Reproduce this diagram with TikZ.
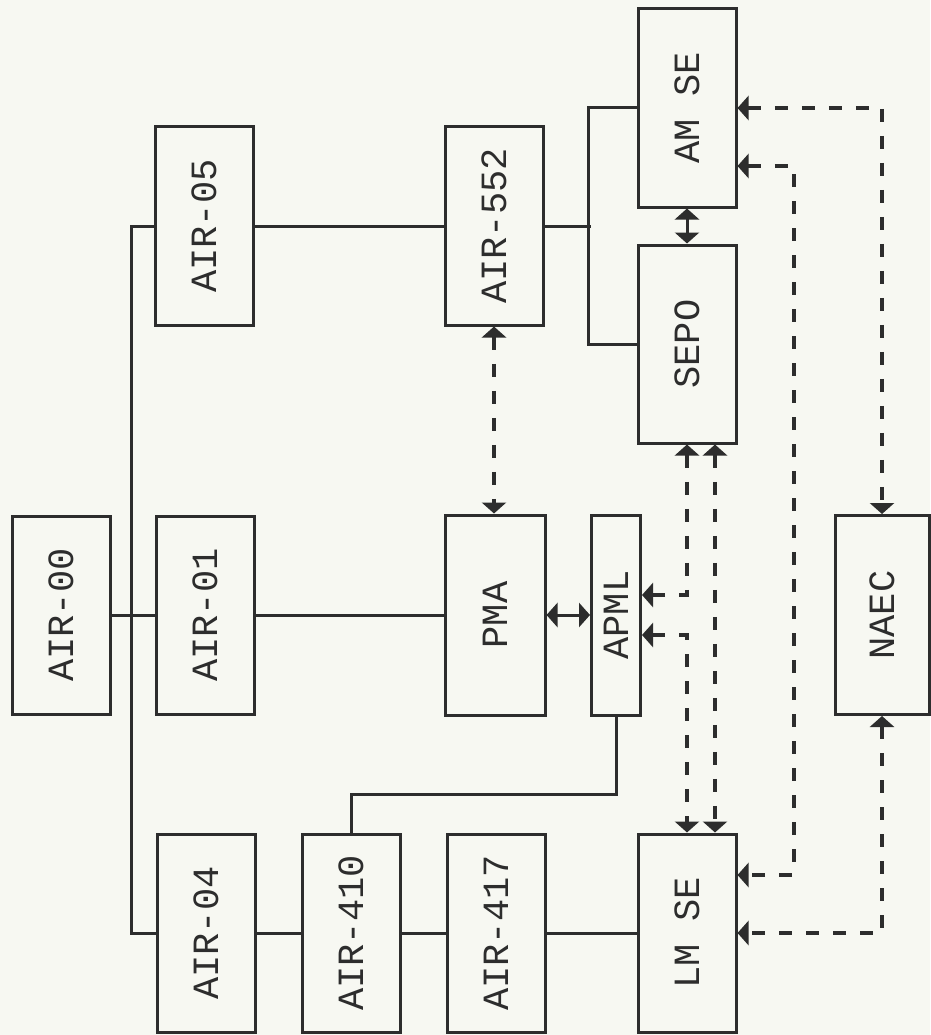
\documentclass[tikz,border=0pt]{standalone}
\usepackage{fontspec}
\usepackage{graphicx}
\setmonofont{Liberation Mono}
\usetikzlibrary{arrows.meta}
\definecolor{ink}{RGB}{45,45,45}
\definecolor{paper}{RGB}{247,248,242}
\tikzset{myhead/.tip={Triangle[width=24pt,length=11pt]}}
\begin{document}
\begin{tikzpicture}[x=1pt,y=-1pt,
  box/.style={draw=ink, line width=3pt, minimum width=98pt, minimum height=198pt,
    inner sep=0pt, text=ink, font=\ttfamily\fontsize{37}{37}\selectfont},
  link/.style={draw=ink, line width=3pt},
  dlink/.style={draw=ink, line width=4pt, dash pattern=on 13pt off 14pt},
  both/.style={myhead-myhead}]
\fill[paper] (0,0) rectangle (930,1035);
\useasboundingbox (0,0) rectangle (930,1035);
% boxes
\node[box] (air00) at (61,615) {\rotatebox{90}{AIR-00}};
\node[box] (air01) at (205,615) {\rotatebox{90}{AIR-01}};
\node[box] (air05) at (204,226) {\rotatebox{90}{AIR-05}};
\node[box] (air04) at (206,933) {\rotatebox{90}{AIR-04}};
\node[box] (air410) at (351,933) {\rotatebox{90}{AIR-410}};
\node[box] (air417) at (496,933) {\rotatebox{90}{AIR-417}};
\node[box] (air552) at (494,226) {\rotatebox{90}{AIR-552}};
\node[box, minimum width=100pt, minimum height=200pt] (pma) at (495,615) {\rotatebox{90}{PMA}};
\node[box, minimum width=49pt, minimum height=200pt] (apml) at (616,615) {\rotatebox{90}{APML}};
\node[box] (amse) at (687,108) {\rotatebox{90}{AM SE}};
\node[box] (sepo) at (687,344) {\rotatebox{90}{SEPO}};
\node[box] (lmse) at (687,933) {\rotatebox{90}{LM SE}};
\node[box, minimum width=94pt, minimum height=199pt] (naec) at (882,615) {\rotatebox{90}{NAEC}};
% solid connectors
\draw[link] (air05.west) -- ++(-22,0) |- (air04.west);
\draw[link] (air00.east) -- (air01.west);
\draw[link] (air01.east) -- (pma.west);
\draw[link] (air05.east) -- (air552.west);
\draw[link] (air552.east) -- ++(46,0);
\draw[link] (amse.west) -- ++(-48,0) |- (sepo.west);
\draw[link] (air04.east) -- (air410.west);
\draw[link] (air410.east) -- (air417.west);
\draw[link] (air417.east) -- (lmse.west);
\draw[link] (apml.south) -- ++(0,78) -| (air410.north);
\draw[link,both] (pma.east) -- (apml.west);
\draw[link,both] (amse.south) -- (sepo.north);
% dashed connectors
\draw[dlink,both] (air552.south) -- (air552.south |- pma.north);
\draw[dlink,both] (sepo.south) |- ([yshift=20pt]apml.east);
\draw[dlink,both] ([yshift=-20pt]apml.east) -| (lmse.north);
\draw[dlink,both] ([xshift=28pt]sepo.south) -- ([xshift=28pt]lmse.north);
\draw[dlink,both] ([yshift=-58pt]amse.east) -- ++(56,0) |- ([yshift=58pt]lmse.east);
\draw[dlink,both] (amse.east) -| (naec.north);
\draw[dlink,both] (naec.south) |- (lmse.east);
\end{tikzpicture}
\end{document}
